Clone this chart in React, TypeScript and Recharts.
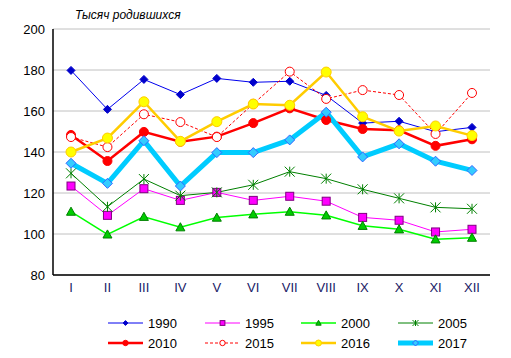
import { LineChart, Line, XAxis, YAxis, CartesianGrid } from 'recharts'

const months = ['I', 'II', 'III', 'IV', 'V', 'VI', 'VII', 'VIII', 'IX', 'X', 'XI', 'XII']

const y1990 = [179.8, 160.8, 175.4, 168, 175.9, 174, 174.5, 167.6, 154.1, 155, 149.9, 152]
const y1995 = [123.4, 109.1, 122.1, 116.4, 120.3, 116.4, 118.4, 116, 108.1, 106.7, 101, 102.3]
const y2000 = [110.9, 99.8, 108.4, 103.3, 108, 109.6, 110.9, 109.1, 104, 102.3, 97.4, 98.2]
const y2005 = [129.6, 113.3, 126.8, 118.7, 120.3, 124, 130.4, 127, 121.8, 117.4, 113, 112.3]
const y2010 = [148.3, 135.6, 149.8, 145, 147.5, 154.1, 161.3, 155.6, 151.2, 150.6, 143, 146.2]
const y2015 = [147.3, 142.4, 158.4, 154.6, 147.3, 163.5, 179.2, 165.9, 170.2, 167.8, 148.8, 168.8]
const y2016 = [140, 146.8, 164.5, 145.2, 154.8, 163.4, 162.8, 179, 157.2, 150.2, 152.7, 148]
const y2017 = [134.5, 124.7, 145.5, 123.4, 139.7, 139.7, 145.9, 159.4, 137.6, 144, 135.5, 131]

const yTicks = [80, 100, 120, 140, 160, 180, 200]

const data = months.map((m, i) => ({
  month: m,
  y1990: y1990[i],
  y1995: y1995[i],
  y2000: y2000[i],
  y2005: y2005[i],
  y2010: y2010[i],
  y2015: y2015[i],
  y2016: y2016[i],
  y2017: y2017[i],
}))

type Shape = 'diamond' | 'square' | 'triangle' | 'star' | 'circle'

interface SeriesStyle {
  key: string
  name: string
  stroke: string
  width: number
  dash?: string
  shape: Shape
  size: number
  fill: string
  border: string
}

const series: SeriesStyle[] = [
  { key: 'y1990', name: '1990', stroke: '#0000ee', width: 1, shape: 'diamond', size: 4, fill: '#0000cc', border: '#0000cc' },
  { key: 'y1995', name: '1995', stroke: '#ff00ff', width: 1, shape: 'square', size: 4, fill: '#ff00ff', border: '#800080' },
  { key: 'y2000', name: '2000', stroke: '#00ff00', width: 1.5, shape: 'triangle', size: 4.5, fill: '#00cc00', border: '#008000' },
  { key: 'y2005', name: '2005', stroke: '#008000', width: 1, shape: 'star', size: 5, fill: 'none', border: '#008000' },
  { key: 'y2010', name: '2010', stroke: '#ff0000', width: 2.5, shape: 'circle', size: 4.5, fill: '#ff0000', border: '#ff0000' },
  { key: 'y2015', name: '2015', stroke: '#ff0000', width: 1, dash: '3 2', shape: 'circle', size: 4.5, fill: '#ffffff', border: '#ff0000' },
  { key: 'y2016', name: '2016', stroke: '#ffcc00', width: 2.5, shape: 'circle', size: 5, fill: '#ffff00', border: '#ffcc00' },
  { key: 'y2017', name: '2017', stroke: '#00ccff', width: 5, shape: 'diamond', size: 5, fill: '#33ccff', border: '#3366ff' },
]

function Marker({ cx, cy, s, scale = 1 }: { cx: number; cy: number; s: SeriesStyle; scale?: number }) {
  const r = s.size * scale
  if (s.shape === 'diamond') {
    return <polygon points={`${cx},${cy - r} ${cx + r},${cy} ${cx},${cy + r} ${cx - r},${cy}`} fill={s.fill} stroke={s.border} strokeWidth={1} />
  }
  if (s.shape === 'square') {
    return <rect x={cx - r} y={cy - r} width={r * 2} height={r * 2} fill={s.fill} stroke={s.border} strokeWidth={1} />
  }
  if (s.shape === 'triangle') {
    return <polygon points={`${cx},${cy - r} ${cx + r},${cy + r * 0.8} ${cx - r},${cy + r * 0.8}`} fill={s.fill} stroke={s.border} strokeWidth={1} />
  }
  if (s.shape === 'star') {
    return (
      <g stroke={s.border} strokeWidth={1}>
        <line x1={cx} y1={cy - r} x2={cx} y2={cy + r} />
        <line x1={cx - r} y1={cy - r} x2={cx + r} y2={cy + r} />
        <line x1={cx - r} y1={cy + r} x2={cx + r} y2={cy - r} />
      </g>
    )
  }
  return <circle cx={cx} cy={cy} r={r} fill={s.fill} stroke={s.border} strokeWidth={1} />
}

function makeDot(s: SeriesStyle) {
  return (props: any) => {
    const { cx, cy, index } = props
    if (cx == null || cy == null) return <g key={`${s.key}-${index}`} />
    return (
      <g key={`${s.key}-${index}`}>
        <Marker cx={cx} cy={cy} s={s} />
      </g>
    )
  }
}

const legendCols = [108, 205, 301, 398]
const legendRows = [323, 343]

function LegendBox() {
  return (
    <>
      {series.map((s, i) => {
        const left = legendCols[i % 4]
        const top = legendRows[Math.floor(i / 4)]
        return (
          <div key={s.key} style={{ position: 'absolute', left, top: top - 7, display: 'flex', alignItems: 'center', height: 14 }}>
            <svg width={35} height={14} style={{ overflow: 'visible' }}>
              <line x1={0} y1={7} x2={35} y2={7} stroke={s.stroke} strokeWidth={s.width} strokeDasharray={s.dash} />
              <Marker cx={17.5} cy={7} s={s} scale={0.6} />
            </svg>
            <span style={{ marginLeft: 5, fontSize: 13, color: '#000' }}>{s.name}</span>
          </div>
        )
      })}
    </>
  )
}

export default function App() {
  return (
    <div style={{ position: 'absolute', left: 0, top: 0, width: 511, height: 358, background: '#fff', fontFamily: 'Liberation Sans, Arial, sans-serif' }}>
      <div style={{ position: 'absolute', left: 75, top: 8, fontSize: 12, fontStyle: 'italic', color: '#000' }}>Тысяч родившихся</div>
      <LineChart width={511} height={358} data={data} margin={{ top: 29, right: 21, left: 0, bottom: 58 }}>
        <CartesianGrid horizontal vertical={false} stroke="#c0c0c0" />
        <XAxis
          dataKey="month"
          height={25}
          tickLine={false}
          padding={{ left: 18, right: 18 }}
          axisLine={{ stroke: '#000', strokeWidth: 1.5 }}
          tick={{ fontSize: 13, fill: '#1a1a66' }}
          interval={0}
        />
        <YAxis
          width={53}
          domain={[80, 200]}
          ticks={yTicks}
          tickLine={false}
          axisLine={{ stroke: '#000', strokeWidth: 1.5 }}
          tick={{ fontSize: 13, fill: '#000' }}
        />
        {series.map((s) => (
          <Line
            key={s.key}
            dataKey={s.key}
            name={s.name}
            stroke={s.stroke}
            strokeWidth={s.width}
            strokeDasharray={s.dash}
            dot={makeDot(s)}
            activeDot={false}
            isAnimationActive={false}
            type="linear"
          />
        ))}
      </LineChart>
      <LegendBox />
    </div>
  )
}
